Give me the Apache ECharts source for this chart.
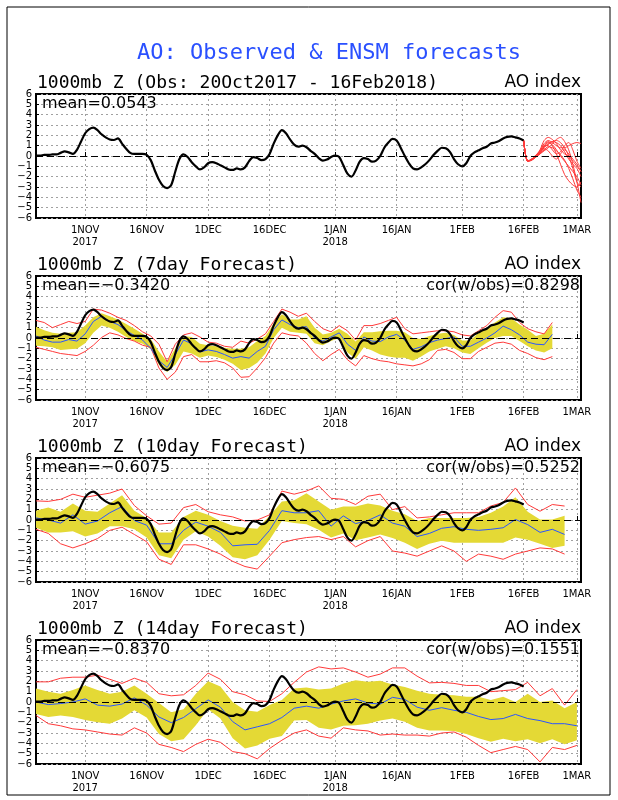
<!DOCTYPE html>
<html>
<head>
<meta charset="utf-8">
<title>AO: Observed & ENSM forecasts</title>
<script src="https://cdn.jsdelivr.net/npm/echarts@6.0.0/dist/echarts.min.js"></script>
<style>
  html, body { margin: 0; padding: 0; background: #fff; }
  #main { width: 618px; height: 800px; }
</style>
</head>
<body>
<div id="main"></div>
<script>
// x axis is in days, day 0 = 20 Oct 2017
var tickDays = [12, 27, 42, 57, 73, 88, 104, 119, 132];
var tickLabels = ['1NOV\n2017', '16NOV', '1DEC', '16DEC', '1JAN\n2018', '16JAN', '1FEB', '16FEB', '1MAR'];

// observed AO index, daily 20Oct2017 - 16Feb2018
var obsIndex = [
  0.05, 0.05, 0.1, 0.1, 0.15, 0.15, 0.3, 0.45, 0.35, 0.2,
  0.6, 1.4, 2.2, 2.6, 2.75, 2.5, 2.1, 1.8, 1.6, 1.55,
  1.7, 1.2, 0.7, 0.3, 0.2, 0.2, 0.2, 0.1, -0.4, -1.4,
  -2.3, -2.9, -3.1, -2.8, -1.5, -0.3, 0.15, -0.1, -0.6, -1.0,
  -1.3, -1.1, -0.7, -0.6, -0.7, -0.9, -1.1, -1.3, -1.35, -1.2,
  -1.3, -1.1, -0.5, -0.1, -0.2, -0.4, -0.3, 0.2, 1.2, 2.0,
  2.5, 2.2, 1.6, 1.1, 0.9, 1.0, 0.85, 0.5, 0.2, -0.2,
  -0.45, -0.35, -0.1, 0.05, -0.1, -0.9, -1.7, -2.0, -1.4, -0.55,
  -0.2, -0.3, -0.55, -0.45, 0.0, 0.8, 1.3, 1.65, 1.5, 0.8,
  0.0, -0.7, -1.2, -1.3, -1.1, -0.8, -0.4, 0.1, 0.5, 0.8,
  0.75, 0.4, -0.3, -0.8, -1.0, -0.7, 0.0, 0.35, 0.55, 0.75,
  0.9, 1.2, 1.3, 1.45, 1.7, 1.85, 1.9, 1.8, 1.7, 1.5
];

// ensemble members from 16Feb
var ensDays = [119, 120, 121, 122, 123, 124, 125, 126, 127, 128, 129, 130, 131, 132, 133];
var ens01 = [1.5, -0.5, -0.4, 0.0, 0.6, 1.5, 1.8, 1.6, 1.2, 0.6, 0.2, 0.0, -0.5, -1.0, -1.5];
var ens02 = [1.5, -0.5, -0.3, 0.0, 0.3, 0.8, 1.2, 1.4, 1.5, 1.3, 0.8, 0.0, -1.2, -2.5, -3.0];
var ens03 = [1.5, -0.5, -0.3, 0.1, 0.4, 1.0, 1.4, 1.0, 0.2, -0.8, -1.8, -2.4, -2.8, -3.0, -2.5];
var ens04 = [1.5, -0.5, -0.4, -0.1, 0.2, 0.5, 0.8, 1.2, 1.6, 1.8, 1.4, 0.6, -0.8, -2.5, -4.5];
var ens05 = [1.5, -0.5, -0.35, 0.0, 0.3, 0.9, 1.3, 1.1, 0.6, 0.0, -0.5, -1.0, -1.5, -2.0, -2.8];
var ens06 = [1.5, -0.5, -0.3, 0.0, 0.5, 1.2, 1.5, 1.3, 1.0, 0.8, 0.8, 1.0, 1.2, 1.3, 1.2];
var ens07 = [1.5, -0.5, -0.3, 0.1, 0.5, 1.0, 1.0, 0.6, 0.2, 0.4, 1.0, 1.3, 0.6, -0.5, -1.2];
var ens08 = [1.5, -0.5, -0.4, -0.1, 0.2, 0.6, 0.9, 0.8, 0.5, 0.1, -0.4, -1.2, -2.2, -3.3, -4.0];
var ens09 = [1.5, -0.5, -0.3, 0.0, 0.4, 0.9, 1.1, 1.4, 1.3, 1.0, 0.4, -0.3, -0.8, -1.2, -2.0];
var ens10 = [1.5, -0.5, -0.3, 0.0, 0.3, 0.7, 0.5, 0.0, -0.3, 0.2, 0.6, 0.2, -0.3, -0.8, -1.5];

// 7day forecast
var f7Days = [0, 2, 4, 6, 8, 10, 12, 14, 16, 18, 20, 22, 24, 26, 28, 30, 32, 34, 36, 38,
  40, 42, 44, 46, 48, 50, 52, 54, 56, 58, 60, 62, 64, 66, 68, 70, 72, 74, 76, 78,
  80, 82, 84, 86, 88, 90, 92, 94, 96, 98, 100, 102, 104, 106, 108, 110, 112, 114, 116, 118,
  120, 122, 124, 126];
var f7Mean = [0.2, -0.2, -0.4, -0.4, -0.15, -0.3, 0.4, 1.6, 2.1, 1.6,
  1.3, 0.7, 0.25, -0.2, -1.0, -2.2, -2.85, -1.6, -0.2, -0.55,
  -1.35, -1.15, -1.3, -1.6, -1.95, -1.8, -1.95, -1.3, -0.8, 0.8,
  1.75, 1.3, 1.0, 1.1, 0.0, -0.3, 0.1, 0.5, -0.6, -1.2,
  0.1, -0.3, -0.35, 0.1, 0.35, -0.2, -1.1, -0.85, -0.45, -0.2,
  -0.05, 0.1, -0.8, -0.8, -0.4, 0.0, 0.5, 1.15, 0.8, 0.3,
  -0.4, -0.6, -0.65, 0.35];
var f7SprHi = [1.1, 0.75, 0.5, 0.4, 0.5, 0.55, 1.2, 2.0, 2.4, 2.1,
  1.8, 1.35, 0.9, 0.4, -0.1, -1.3, -2.3, -1.0, 0.2, 0.1,
  -0.55, -0.7, -0.8, -0.95, -1.05, -1.05, -0.9, -0.3, 0.2, 1.4,
  2.3, 1.8, 1.8, 2.1, 1.0, 0.35, 0.5, 0.9, 0.4, -0.35,
  0.55, 0.55, 0.65, 0.7, 0.7, 0.55, 0.0, -0.1, 0.2, 0.4,
  0.5, 0.3, -0.25, -0.25, 0.5, 1.0, 1.5, 2.0, 1.9, 1.3,
  0.8, 0.2, 0.4, 1.3];
var f7SprLo = [-0.75, -0.8, -0.9, -1.15, -1.1, -1.05, -0.5, 0.5, 1.2, 1.0,
  0.6, 0.1, -0.3, -0.55, -1.1, -2.6, -3.3, -2.6, -1.3, -1.5,
  -1.9, -1.7, -1.85, -2.1, -2.5, -3.1, -2.9, -2.4, -1.5, 0.0,
  1.0, 0.6, 0.5, 0.4, -0.5, -0.7, -0.3, 0.0, -1.4, -2.0,
  -0.9, -1.2, -1.6, -1.8, -1.9, -1.9, -2.2, -1.8, -1.3, -1.05,
  -0.8, -1.0, -1.4, -1.55, -1.0, -0.45, 0.0, 0.2, 0.2, -0.3,
  -0.8, -1.2, -1.4, -1.0];
var f7Max = [1.7, 1.5, 1.0, 1.3, 1.6, 1.4, 1.6, 2.8, 2.7, 2.4,
  2.0, 1.7, 1.2, 0.6, 0.2, -0.6, -2.3, -0.6, 0.3, 0.5,
  0.1, -0.4, -0.5, -0.8, -0.9, -0.3, -0.5, -0.1, 0.4, 1.6,
  2.8, 2.5, 2.1, 2.4, 1.6, 0.9, 0.6, 1.2, 0.7, -0.2,
  1.2, 1.2, 1.4, 1.7, 2.0, 0.9, 0.4, 0.5, 0.6, 0.7,
  0.7, 0.6, 0.3, 0.2, 0.7, 1.2, 2.0, 2.65, 2.5, 1.5,
  0.9, 0.6, 0.4, 1.5];
var f7Min = [-0.9, -1.1, -1.3, -1.5, -1.6, -1.7, -1.3, -0.7, 0.05, 0.5,
  0.3, -0.05, -0.3, -0.7, -0.9, -2.9, -4.0, -3.3, -1.8, -1.6,
  -2.3, -2.3, -2.2, -2.4, -2.9, -3.8, -3.75, -2.9, -1.9, -0.5,
  0.5, 0.3, 0.2, -0.5, -1.5, -2.2, -1.6, -1.1, -2.1, -2.7,
  -1.7, -2.0, -2.2, -2.3, -2.5, -2.6, -2.7, -2.5, -2.1, -1.2,
  -1.1, -1.4, -2.0, -2.0, -1.3, -0.9, -0.5, -0.4, -0.6, -1.2,
  -1.5, -1.9, -2.1, -1.8];

// 10day forecast
var f10Days = [0, 3, 6, 9, 12, 15, 18, 21, 24, 27, 30, 33, 36, 39, 42, 45, 48, 51, 54, 57,
  60, 63, 66, 69, 72, 75, 78, 81, 84, 87, 90, 93, 96, 99, 102, 105, 108, 111, 114, 117,
  120, 123, 126, 129];
var f10Mean = [0.2, 0.0, -0.3, 0.5, -0.4, -0.1, 0.7, 1.3, -0.05, -0.5,
  -2.3, -2.3, -1.0, -0.2, -0.6, -1.2, -2.5, -2.4, -2.35, -1.0,
  0.9, 0.7, 0.7, 0.9, -0.6, 0.4, -0.35, -0.05, 0.5, -0.3,
  -0.6, -1.6, -1.3, -0.8, -0.65, -0.9, -1.0, -0.9, -0.75, 0.05,
  -0.45, -1.2, -0.9, -1.4];
var f10SprHi = [0.9, 1.2, 0.8, 1.6, 0.9, 0.8, 1.6, 2.4, 0.9, 0.2,
  -1.2, -1.2, 0.3, 0.9, 0.5, -0.1, -0.55, -0.75, -0.85, 0.4,
  1.8, 1.9, 2.6, 1.8, 1.0, 1.3, 1.3, 1.6, 1.4, 0.9,
  0.55, -0.1, 0.2, 0.2, 0.2, 0.2, 0.3, 0.7, 1.3, 2.2,
  0.8, 0.05, 0.05, 0.4];
var f10SprLo = [-0.75, -1.2, -1.2, -1.1, -1.6, -1.3, -0.6, -0.6, -0.9, -1.7,
  -3.4, -3.7, -1.9, -1.1, -1.6, -2.5, -3.6, -3.8, -3.4, -1.9,
  -0.1, -0.3, -0.4, -0.95, -1.7, -1.3, -1.95, -1.7, -1.4, -1.75,
  -2.2, -2.8, -2.3, -2.0, -2.2, -2.2, -2.2, -2.2, -2.2, -1.7,
  -1.9, -2.3, -2.7, -2.5];
var f10Max = [1.85, 1.8, 2.0, 2.5, 2.2, 2.4, 2.6, 3.0, 1.4, 0.4,
  -0.4, -0.3, 1.2, 1.5, 0.8, 0.5, 0.3, -0.1, 0.0, 0.5,
  2.8, 2.5, 2.8, 3.3, 2.1, 2.0, 1.5, 2.3, 2.5, 1.0,
  1.3, 0.2, 0.3, 0.5, 0.7, 0.7, 0.7, 1.35, 1.7, 3.1,
  1.5, 0.85, 1.5, 1.35];
var f10Min = [-0.9, -1.3, -2.3, -2.7, -2.3, -1.8, -1.0, -0.7, -1.4, -2.1,
  -3.8, -4.3, -2.4, -2.4, -2.8, -3.3, -4.0, -4.5, -4.75, -3.5,
  -2.2, -1.9, -1.7, -1.6, -1.9, -1.6, -2.6, -2.0, -1.6, -3.0,
  -3.2, -3.5, -3.0, -2.5, -3.0, -4.0, -3.3, -3.5, -3.8, -3.3,
  -3.0, -2.7, -2.8, -3.3];

// 14day forecast
var f14Days = [0, 3, 6, 9, 12, 15, 18, 21, 24, 27, 30, 33, 36, 39, 42, 45, 48, 51, 54, 57,
  60, 63, 66, 69, 72, 75, 78, 81, 84, 87, 90, 93, 96, 99, 102, 105, 108, 111, 114, 117,
  120, 123, 126, 129, 132];
var f14Mean = [0.0, -0.25, -0.15, 0.0, 0.3, -0.3, -0.4, -0.2, 0.4, -0.3,
  -1.45, -2.0, -1.5, -0.65, 0.2, -0.5, -1.9, -2.7, -2.4, -2.1,
  -1.5, -0.6, -0.4, -0.6, -0.2, 0.1, 0.3, -0.1, -0.2, 0.45,
  0.25, -0.5, -0.8, -0.55, -0.8, -1.0, -1.4, -1.7, -1.6, -1.2,
  -1.6, -1.8, -2.1, -2.1, -2.3];
var f14SprHi = [1.3, 1.0, 0.8, 1.15, 1.6, 1.15, 0.8, 1.0, 1.6, 0.8,
  -0.1, -1.0, -0.7, 0.8, 2.0, 1.5, 0.0, -0.8, -0.95, -0.3,
  0.2, 1.3, 1.4, 1.2, 1.3, 1.8, 2.1, 1.95, 2.05, 1.7,
  1.45, 1.1, 0.8, 0.7, 0.65, 0.5, 0.5, 0.2, 0.5, 0.0,
  0.8, 0.0, 0.15, -0.6, 0.0];
var f14SprLo = [-1.15, -1.45, -1.3, -1.45, -1.75, -1.95, -2.1, -1.6, -0.8, -1.5,
  -3.1, -3.8, -3.6, -2.25, -0.7, -1.6, -3.5, -4.5, -4.2, -3.55,
  -3.3, -1.8, -1.75, -2.5, -2.65, -2.3, -2.25, -2.1, -1.8, -1.6,
  -1.9, -2.5, -2.75, -2.75, -2.8, -3.1, -3.5, -3.85, -3.55, -3.8,
  -3.6, -4.0, -3.6, -4.1, -3.7];
var f14Max = [1.95, 1.95, 2.3, 2.4, 2.4, 2.6, 2.2, 1.8, 2.3, 1.9,
  0.8, 0.6, 0.7, 1.6, 2.8, 2.2, 1.0, 0.7, 0.1, 0.05,
  0.8, 1.9, 2.9, 3.4, 3.2, 3.3, 2.9, 2.4, 2.7, 3.3,
  3.3, 2.5, 1.85, 1.9, 1.8, 1.6, 1.6, 1.0, 1.1, 1.2,
  1.9, 0.6, 1.3, -0.3, 1.2];
var f14Min = [-1.3, -2.1, -2.3, -2.6, -2.7, -2.9, -3.1, -3.2, -2.5, -3.0,
  -4.1, -4.4, -4.8, -4.1, -3.6, -3.9, -4.8, -5.0, -5.5, -4.5,
  -3.7, -3.0, -2.7, -3.3, -3.5, -2.5, -2.7, -2.8, -3.2, -3.1,
  -3.2, -3.2, -3.3, -3.0, -2.9, -3.4, -4.2, -4.9, -4.6, -4.3,
  -4.6, -5.8, -4.4, -4.6, -4.2];

var panelTitles = ['1000mb Z (Obs: 20Oct2017 - 16Feb2018)', '1000mb Z (7day Forecast)',
  '1000mb Z (10day Forecast)', '1000mb Z (14day Forecast)'];
var meanTexts = ['mean=0.0543', 'mean=\u22120.3420', 'mean=\u22120.6075', 'mean=\u22120.8370'];
var corTexts = ['', 'cor(w/obs)=0.8298', 'cor(w/obs)=0.5252', 'cor(w/obs)=0.1551'];

var forecasts = [
  null,
  { days: f7Days, mean: f7Mean, hi: f7SprHi, lo: f7SprLo, max: f7Max, min: f7Min },
  { days: f10Days, mean: f10Mean, hi: f10SprHi, lo: f10SprLo, max: f10Max, min: f10Min },
  { days: f14Days, mean: f14Mean, hi: f14SprHi, lo: f14SprLo, max: f14Max, min: f14Min }
];
var members = [ens01, ens02, ens03, ens04, ens05, ens06, ens07, ens08, ens09, ens10];

var FONT = 'DejaVu Sans';
var MONO = 'DejaVu Sans Mono';
var YELLOW = '#e4d935';
var RED = '#ff3a3a';
var BLUE = '#2a55ff';
var plotLeft = 36, plotWidth = 545, plotHeight = 124;
var panelTops = [94, 276, 458, 640];

function pairs(xs, ys) {
  return xs.map(function (x, k) { return [x, ys[k]]; });
}

// yellow spread band, drawn once as one polygon through the axis scales
function bandRenderer(fc) {
  return function (params, api) {
    if (params.dataIndex !== 0) return null;
    var pts = [];
    fc.days.forEach(function (d, k) { pts.push(api.coord([d, fc.hi[k]])); });
    for (var k = fc.days.length - 1; k >= 0; k--) pts.push(api.coord([fc.days[k], fc.lo[k]]));
    return { type: 'polygon', shape: { points: pts }, style: { fill: YELLOW } };
  };
}

var grids = [], xAxes = [], yAxes = [], series = [], texts = [];

panelTops.forEach(function (top, i) {
  grids.push({
    left: plotLeft, top: top, width: plotWidth, height: plotHeight,
    show: true, borderColor: '#000', borderWidth: 2, backgroundColor: 'transparent'
  });
  xAxes.push({
    type: 'value', gridIndex: i, min: 0, max: 133,
    axisLine: { show: false },
    axisTick: { show: true, inside: true, length: 4, customValues: tickDays, lineStyle: { color: '#000' } },
    axisLabel: {
      customValues: tickDays, margin: 6, fontSize: 10, lineHeight: 12, color: '#000', fontFamily: FONT,
      formatter: function (v) { var k = tickDays.indexOf(v); return k >= 0 ? tickLabels[k] : ''; }
    },
    splitLine: { show: true, lineStyle: { color: '#a0a0a0', type: [2, 3], width: 1 } }
  });
  yAxes.push({
    type: 'value', gridIndex: i, min: -6, max: 6, interval: 1,
    axisLine: { show: false },
    axisTick: { show: true, inside: true, length: 3, lineStyle: { color: '#000' } },
    axisLabel: {
      margin: 4, fontSize: 10, color: '#000', fontFamily: FONT,
      formatter: function (v) { return v < 0 ? '\u2212' + (-v) : String(v); }
    },
    splitLine: { show: true, lineStyle: { color: '#a0a0a0', type: [2, 3], width: 1 } }
  });

  var fc = forecasts[i];
  if (fc) {
    series.push({
      type: 'custom', xAxisIndex: i, yAxisIndex: i, silent: true, z: 2,
      data: fc.days.map(function (d, k) { return [d, fc.lo[k], fc.hi[k]]; }),
      encode: { x: 0, y: [1, 2] },
      renderItem: bandRenderer(fc)
    });
    [fc.max, fc.min].forEach(function (arr) {
      series.push({
        type: 'line', xAxisIndex: i, yAxisIndex: i, data: pairs(fc.days, arr),
        symbol: 'none', silent: true, z: 3, lineStyle: { color: RED, width: 1 }
      });
    });
    series.push({
      type: 'line', xAxisIndex: i, yAxisIndex: i, data: pairs(fc.days, fc.mean),
      symbol: 'none', silent: true, z: 4, lineStyle: { color: BLUE, width: 1 }
    });
  } else {
    members.forEach(function (m) {
      series.push({
        type: 'line', xAxisIndex: i, yAxisIndex: i, data: pairs(ensDays, m),
        symbol: 'none', silent: true, z: 3, smooth: 0.3, lineStyle: { color: RED, width: 1 }
      });
    });
  }
  series.push({
    type: 'line', xAxisIndex: i, yAxisIndex: i,
    data: obsIndex.map(function (v, d) { return [d, v]; }),
    symbol: 'none', silent: true, z: 6, smooth: 0.3,
    lineStyle: { color: '#000', width: 2.2 },
    markLine: {
      silent: true, symbol: 'none', label: { show: false },
      lineStyle: { color: '#000', type: [7, 4], width: 1.2 },
      data: [{ yAxis: 0 }]
    }
  });

  texts.push({ type: 'text', left: plotLeft + 1, top: top - 20,
    style: { text: panelTitles[i], font: '18px ' + MONO, fill: '#000' } });
  texts.push({ type: 'text', right: 618 - (plotLeft + plotWidth), top: top - 20,
    style: { text: 'AO index', font: '17px ' + FONT, fill: '#000' } });
  texts.push({ type: 'text', left: plotLeft + 6, top: top + 2, z: 10,
    style: { text: meanTexts[i], font: '16px ' + FONT, fill: '#000' } });
  if (corTexts[i]) {
    texts.push({ type: 'text', right: 618 - (plotLeft + plotWidth) + 1, top: top + 2, z: 10,
      style: { text: corTexts[i], font: '16px ' + FONT, fill: '#000' } });
  }
});

texts.push({ type: 'text', left: 137, top: 42,
  style: { text: 'AO: Observed & ENSM forecasts', font: '22px ' + MONO, fill: '#2a50ff' } });
texts.push({ type: 'rect', shape: { x: 7, y: 7, width: 603, height: 788 },
  style: { fill: 'none', stroke: '#000', lineWidth: 1 }, z: -1 });

var chart = echarts.init(document.getElementById('main'), null, { renderer: 'canvas' });
chart.setOption({
  animation: false,
  backgroundColor: '#fff',
  grid: grids,
  xAxis: xAxes,
  yAxis: yAxes,
  series: series,
  graphic: texts
});
</script>
</body>
</html>
